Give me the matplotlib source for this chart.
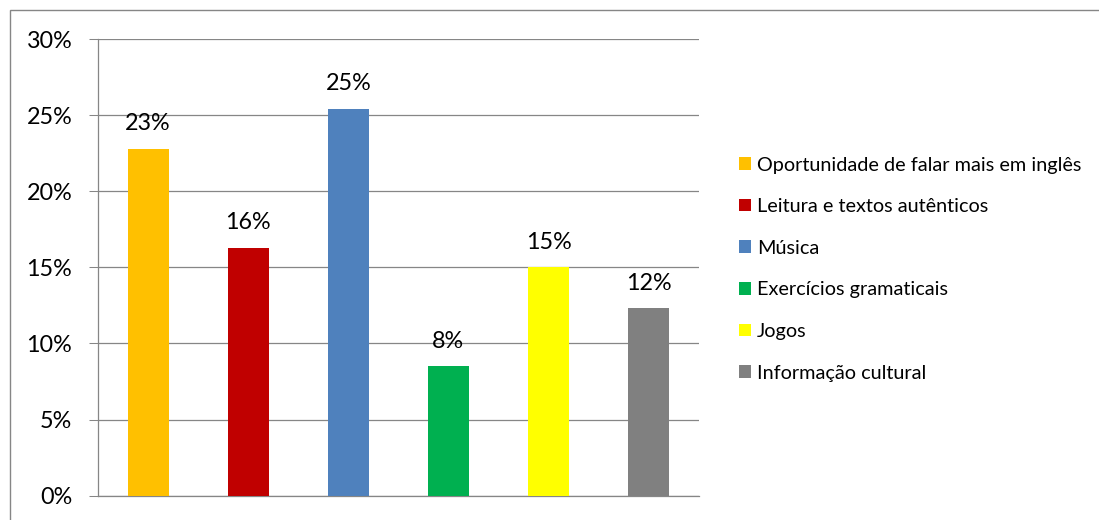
import matplotlib.pyplot as plt
from matplotlib.patches import Patch, Rectangle
from matplotlib.ticker import PercentFormatter

categories = [
    'Oportunidade de falar mais em inglês',
    'Leitura e textos autênticos',
    'Música',
    'Exercícios gramaticais',
    'Jogos',
    'Informação cultural',
]
shares = [0.228, 0.163, 0.254, 0.085, 0.150, 0.123]
bar_colors = ['#FFC000', '#C00000', '#4F81BD', '#00B050', '#FFFF00', '#808080']
y_ticks = [0, 0.05, 0.10, 0.15, 0.20, 0.25, 0.30]

plt.rcParams['font.family'] = ['Lato', 'DejaVu Sans']
grid_gray = '#868686'

fig = plt.figure(figsize=(10.99, 5.20), dpi=100)
ax = fig.add_axes([98 / 1099, 24.3 / 520, 600.7 / 1099, 456.7 / 520])

x = list(range(len(categories)))
bars = ax.bar(x, shares, width=0.41, color=bar_colors, zorder=3)

for rect, val in zip(bars, shares):
    ax.annotate(f'{val:.0%}', (rect.get_x() + rect.get_width() / 2, val),
                xytext=(0, 13.5), textcoords='offset points',
                ha='center', va='baseline', fontsize=16.8, color='black')

ax.set_xlim(-0.5, len(categories) - 0.5)
ax.set_ylim(0, 0.30)
ax.set_yticks(y_ticks)
ax.yaxis.set_major_formatter(PercentFormatter(1.0, decimals=0))
ax.set_xticks([])
ax.tick_params(axis='y', length=6.5, width=0.75, color=grid_gray,
               labelsize=16.8, pad=12)
ax.grid(axis='y', color=grid_gray, linewidth=0.9, zorder=0)

for side in ['top', 'right']:
    ax.spines[side].set_visible(False)
for side in ['left', 'bottom']:
    ax.spines[side].set_color(grid_gray)
    ax.spines[side].set_linewidth(0.9)

handles = [Patch(facecolor=c, edgecolor='none') for c in bar_colors]
fig.legend(handles, categories, loc='upper left',
           bbox_to_anchor=(739 / 1099, 1 - 156.5 / 520),
           frameon=False, fontsize=14.3, handlelength=0.6, handleheight=0.6,
           handletextpad=0.3, labelspacing=1.24, borderaxespad=0, borderpad=0)

# outer chart frame, only left and top edges fall inside the image
fig.add_artist(Rectangle((10 / 1099, -0.1), 1.2, (520 - 9.5) / 520 + 0.1,
                         transform=fig.transFigure, fill=False,
                         edgecolor=grid_gray, linewidth=1.0))

plt.savefig('out.png', dpi=100)
